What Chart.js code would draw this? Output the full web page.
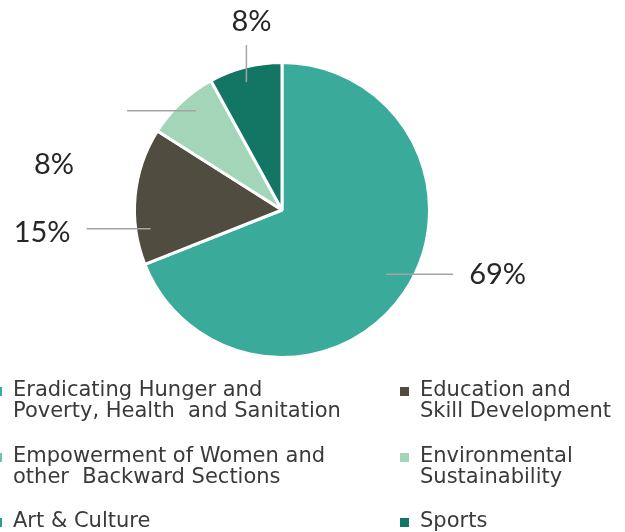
<!DOCTYPE html>
<html>
<head>
<meta charset="utf-8">
<script src="https://cdn.jsdelivr.net/npm/chart.js@4.4.1/dist/chart.umd.min.js"></script>
<style>
	html, body { margin: 0; padding: 0; background: #fff; }
	#wrap { width: 625px; height: 532px; }
</style>
</head>
<body>
<div id="wrap"><canvas id="myChart" width="625" height="532"></canvas></div>
<script>
const categories = [
	"Eradicating Hunger and Poverty, Health and Sanitation",
	"Education and Skill Development",
	"Empowerment of Women and other Backward Sections",
	"Environmental Sustainability",
	"Art & Culture",
	"Sports",
];

// legend text, broken the way the picture breaks it
const legendLines = [
	["Eradicating Hunger and", "Poverty, Health  and Sanitation"],
	["Education and", "Skill Development"],
	["Empowerment of Women and", "other  Backward Sections"],
	["Environmental", "Sustainability"],
	["Art & Culture"],
	["Sports"],
];

const shares = [69, 15, 0, 8, 0, 8];

const sliceColors = ["#3aab9b", "#514c40", "#6fc0b0", "#a3d6b9", "#2f9c88", "#137563"];

// where each callout sits: anchor inside slice (r, t), line vector, text offset from anchor
const callouts = {
	0: { r: 0.83, t: 0.49, dx: 67, dy: 0, tx: 83, ty: 0, align: "left" },
	1: { r: 0.90, t: 0.25, dx: -64, dy: 0, tx: -80, ty: 4, align: "right" },
	3: { r: 0.89, t: 0.58, dx: -69, dy: 0, tx: -142, ty: 54, align: "center" },
	5: { r: 0.90, t: 0.46, dx: 0, dy: -37, tx: 5, ty: -60, align: "center" },
};

const calloutPlugin = {
	id: "callouts",
	afterDatasetsDraw(chart) {
		const ctx = chart.ctx;
		const meta = chart.getDatasetMeta(0);
		ctx.save();
		Object.keys(callouts).forEach((k) => {
			const i = Number(k);
			const c = callouts[i];
			const arc = meta.data[i];
			const p = arc.getProps(["x", "y", "startAngle", "endAngle", "outerRadius"], true);
			const a = p.startAngle + c.t * (p.endAngle - p.startAngle);
			const ax = p.x + Math.cos(a) * p.outerRadius * c.r;
			const ay = p.y + Math.sin(a) * p.outerRadius * c.r;
			ctx.strokeStyle = "#a4a4a4";
			ctx.lineWidth = 1.5;
			ctx.beginPath();
			ctx.moveTo(ax, ay);
			ctx.lineTo(ax + c.dx, ay + c.dy);
			ctx.stroke();
			ctx.fillStyle = "#262626";
			ctx.font = "29px Lato";
			ctx.textAlign = c.align;
			ctx.textBaseline = "middle";
			ctx.fillText(shares[i] + "%", ax + c.tx, ay + c.ty);
		});
		ctx.restore();
	},
};

const legendPlugin = {
	id: "sideLegend",
	afterDraw(chart) {
		const ctx = chart.ctx;
		const colX = [13, 420];
		const rowY = [391, 457, 522];
		ctx.save();
		ctx.font = "21px 'DejaVu Sans'";
		ctx.textBaseline = "middle";
		ctx.textAlign = "left";
		legendLines.forEach((lines, i) => {
			const x = colX[i % 2];
			const y = rowY[Math.floor(i / 2)];
			ctx.fillStyle = sliceColors[i];
			ctx.fillRect(x - 20, y - 4, 9, 9);
			ctx.fillStyle = "#3a3a3a";
			lines.forEach((t, j) => ctx.fillText(t, x, y + j * 21));
		});
		ctx.restore();
	},
};

new Chart("myChart", {
	type: "pie",
	data: {
		labels: categories,
		datasets: [
			{
				data: shares,
				backgroundColor: sliceColors,
				borderColor: "#fff",
				borderWidth: 3,
			},
		],
	},
	options: {
		responsive: false,
		animation: false,
		layout: { padding: { left: 133, right: 194, top: 61, bottom: 173 } },
		plugins: {
			legend: { display: false },
			tooltip: { enabled: false },
		},
	},
	plugins: [calloutPlugin, legendPlugin],
});
</script>
</body>
</html>
